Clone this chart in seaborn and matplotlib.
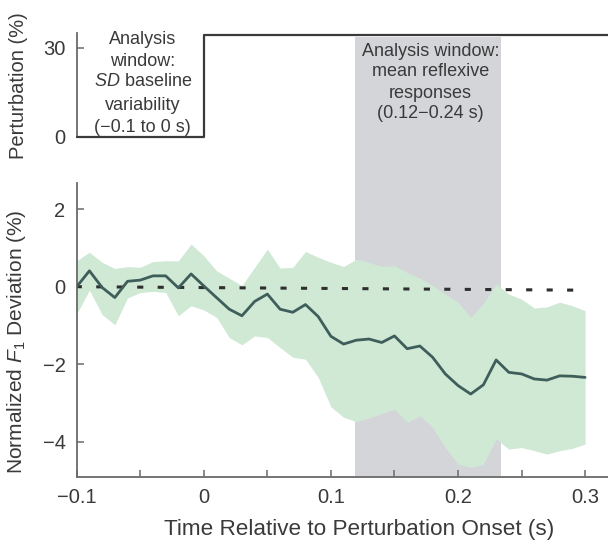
import numpy as np
import pandas as pd
import matplotlib
matplotlib.use("Agg")
import matplotlib.pyplot as plt
import matplotlib.transforms as mtransforms
from matplotlib.patches import Rectangle
import seaborn as sns

# ---------------- data ----------------
time_s = [-0.10, -0.09, -0.08, -0.07, -0.06, -0.05, -0.04, -0.03, -0.02, -0.01,
          0.00, 0.01, 0.02, 0.03, 0.04, 0.05, 0.06, 0.07, 0.08, 0.09,
          0.10, 0.11, 0.12, 0.13, 0.14, 0.15, 0.16, 0.17, 0.18, 0.19,
          0.20, 0.21, 0.22, 0.23, 0.24, 0.25, 0.26, 0.27, 0.28, 0.29, 0.30]
mean_dev = [0.00, 0.41, -0.02, -0.28, 0.14, 0.17, 0.28, 0.28, -0.03, 0.33,
            0.02, -0.28, -0.58, -0.75, -0.38, -0.19, -0.58, -0.66, -0.46, -0.77,
            -1.28, -1.48, -1.38, -1.35, -1.44, -1.27, -1.60, -1.53, -1.82, -2.25,
            -2.55, -2.77, -2.53, -1.89, -2.21, -2.25, -2.38, -2.41, -2.30, -2.31, -2.34]
upper_dev = [0.67, 0.89, 0.63, 0.47, 0.52, 0.50, 0.65, 0.67, 0.67, 1.10,
             0.80, 0.41, 0.22, 0.03, 0.50, 0.97, 0.48, 0.50, 0.91, 0.76,
             0.63, 0.52, 0.71, 0.63, 0.52, 0.54, 0.37, 0.22, 0.03, -0.19,
             -0.40, -0.79, -0.43, 0.07, -0.19, -0.32, -0.55, -0.52, -0.40, -0.49, -0.62]
lower_dev = [-0.70, -0.09, -0.72, -0.98, -0.29, -0.15, -0.12, -0.15, -0.75, -0.49,
             -0.60, -0.79, -1.31, -1.50, -1.27, -1.31, -1.57, -1.82, -1.87, -2.34,
             -3.10, -3.37, -3.48, -3.39, -3.27, -3.16, -3.50, -3.33, -3.63, -4.15,
             -4.58, -4.66, -4.58, -3.93, -4.19, -4.15, -4.23, -4.32, -4.23, -4.17, -4.06]
baseline_t = [-0.10, 0.30]
baseline_dev = [0.00, -0.09]
pert_t = [-0.10, 0.00, 0.00, 0.40]
pert_pct = [0.0, 0.0, 34.5, 34.5]
window_t = [0.119, 0.234]
xticks = [-0.1, 0.0, 0.1, 0.2, 0.3]
xtick_labels = ["\u22120.1", "0", "0.1", "0.2", "0.3"]
xticks_minor = [-0.05, 0.05, 0.15, 0.25]
yticks_dev = [-4, -2, 0, 2]
yticks_pert = [0, 30]

baseline_text = ["Analysis", "window:", r"$\mathit{SD}$ baseline", "variability", "(\u22120.1 to 0 s)"]
reflex_text = ["Analysis window:", "mean reflexive", "responses", "(0.12\u22120.24 s)"]

# ---------------- style ----------------
sns.set_theme(style="ticks")
plt.rcParams["font.family"] = ["Liberation Sans", "DejaVu Sans"]
plt.rcParams["mathtext.fontset"] = "custom"
plt.rcParams["mathtext.rm"] = "Liberation Sans"
plt.rcParams["mathtext.it"] = "Liberation Sans:italic"
plt.rcParams["mathtext.bf"] = "Liberation Sans:bold"
plt.rcParams["axes.unicode_minus"] = True

TXT = "#3a3a3a"
SPINE = "#6a6a6a"
GREEN = "#d0e9d5"
LINE = "#3f5e5b"
GRAY = "#d3d5d9"

W, H = 608, 544
fig = plt.figure(figsize=(W / 100, H / 100), dpi=100)

x0 = 76.7 / W
ax_top = fig.add_axes([x0, 1 - 137 / H, 1 - x0, (137 - 33) / H])
ax = fig.add_axes([x0, 1 - 477 / H, 1 - x0, (477 - 183) / H])
for a in (ax_top, ax):
    a.set_facecolor("none")

xlim = (-0.1, (W - 76.7) / 1271 - 0.1)

# gray analysis window spanning both panels
trans = mtransforms.blended_transform_factory(ax.transData, fig.transFigure)
rect = Rectangle((window_t[0], 1 - 477 / H), window_t[1] - window_t[0], (477 - 36.7) / H,
                 transform=trans, facecolor=GRAY, edgecolor="none", zorder=-5)
fig.add_artist(rect)

# ---------------- bottom panel ----------------
ax.fill_between(time_s, lower_dev, upper_dev, color=GREEN, lw=0, zorder=1)
sns.lineplot(x=baseline_t, y=baseline_dev, ax=ax, color="#2e2e2e", lw=2.2,
             linestyle=(0.3, (2.0, 4.7)), zorder=2)
sns.lineplot(x=time_s, y=mean_dev, ax=ax, color=LINE, lw=2.0, zorder=3)

ax.set_xlim(*xlim)
ax.set_ylim(-4.91, 2.676)
ax.set_xticks(xticks)
ax.set_xticklabels(xtick_labels)
ax.set_xticks(xticks_minor, minor=True)
ax.set_yticks(yticks_dev)
ax.tick_params(axis="both", which="both", direction="in", length=5, width=1.1,
               color=SPINE, labelsize=14.5, labelcolor=TXT, pad=8)
for s in ("top", "right"):
    ax.spines[s].set_visible(False)
for s in ("left", "bottom"):
    ax.spines[s].set_color(SPINE)
    ax.spines[s].set_linewidth(1.3)
ax.set_xlabel("Time Relative to Perturbation Onset (s)", fontsize=16.2, color=TXT)
ax.set_ylabel(r"Normalized $\mathit{F}_{\mathrm{1}}$ Deviation (%)", fontsize=15, color=TXT)
ax.xaxis.set_label_coords((359 - 76.7) / (W - 76.7), -(519 - 477) / (477 - 183))
ax.yaxis.set_label_coords((28 - 76.7) / (W - 76.7), (477 - 342) / (477 - 183))

# ---------------- top panel ----------------
sns.lineplot(x=pert_t, y=pert_pct, ax=ax_top, color="#3a3a3a", lw=1.6,
             estimator=None, sort=False, clip_on=False, zorder=3)
ax_top.set_xlim(*xlim)
ax_top.set_ylim(0, 35.05)
ax_top.set_xticks([])
ax_top.set_yticks(yticks_pert)
ax_top.tick_params(axis="y", direction="in", length=5, width=1.1, color=SPINE,
                   labelsize=14.5, labelcolor=TXT, pad=8)
for s in ("top", "right", "bottom"):
    ax_top.spines[s].set_visible(False)
ax_top.spines["left"].set_color(SPINE)
ax_top.spines["left"].set_linewidth(1.3)
ax_top.set_xlabel("")
ax_top.set_ylabel("Perturbation (%)", fontsize=14.5, color=TXT)
ax_top.yaxis.set_label_coords((28 - 76.7) / (W - 76.7), (137 - 86) / (137 - 33))

# annotations
ttrans = mtransforms.blended_transform_factory(ax.transData, fig.transFigure)
for line, py in zip(baseline_text, [40, 61, 81, 106, 127]):
    fig.text(-0.048, 1 - py / H, line, transform=ttrans, ha="center", va="center",
             fontsize=13, color=TXT)
for line, py in zip(reflex_text, [52, 72, 93, 113]):
    fig.text(0.1785, 1 - py / H, line, transform=ttrans, ha="center", va="center",
             fontsize=13, color=TXT)

fig.savefig("out.png", dpi=100)
